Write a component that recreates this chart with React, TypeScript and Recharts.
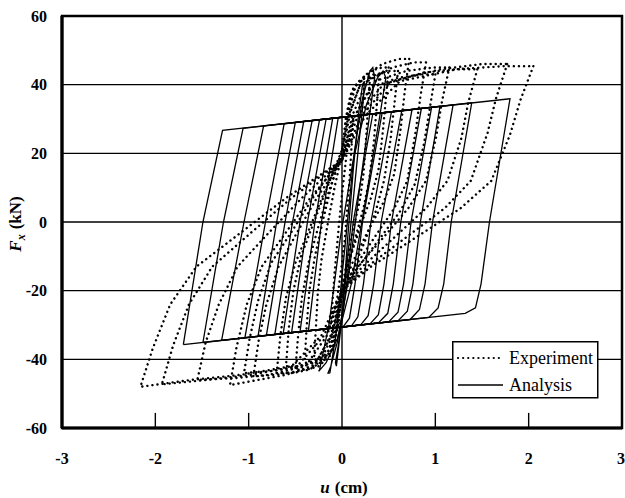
import { LineChart, Line, XAxis, YAxis, ReferenceLine, ReferenceArea } from "recharts";

type P = [number, number];

const xTicks = [-3, -2, -1, 0, 1, 2, 3];
const yTicks = [-60, -40, -20, 0, 20, 40, 60];
const gridY = [-40, -20, 0, 20, 40];
const innerTicks = [-2, -1, 1, 2];

// analysis: nested loops (lower-left -> upper-left -> upper-right -> down -> back)
const analysis1: P[] = [[-1.7, -35.7], [-1.49, 0], [-1.28, 26.7], [1.8, 35.9], [1.58, 0], [1.49, -18], [1.43, -25], [1.32, -26.6], [-1.7, -35.7]];
const analysis2: P[] = [[-1.49, -35.1], [-1.27, 0], [-1.06, 27.3], [1.39, 34.7], [1.17, 0], [1.09, -18], [1.03, -25], [0.93, -27.8], [-1.49, -35.1]];
const analysis3: P[] = [[-1.29, -34.5], [-1.05, 0], [-0.84, 28.0], [1.19, 34.1], [0.97, 0], [0.89, -18], [0.83, -25.5], [0.73, -28.4], [-1.29, -34.5]];
const analysis4: P[] = [[-1.04, -33.7], [-0.82, 0], [-0.62, 28.6], [1.05, 33.7], [0.84, 0], [0.76, -18], [0.7, -26], [0.6, -28.8], [-1.04, -33.7]];
const analysis5: P[] = [[-0.9, -33.3], [-0.7, 0], [-0.5, 29.0], [0.96, 33.4], [0.74, 0], [0.66, -18], [0.6, -26.3], [0.5, -29.1], [-0.9, -33.3]];
const analysis6: P[] = [[-0.81, -33.0], [-0.61, 0], [-0.41, 29.3], [0.85, 33.0], [0.63, 0], [0.55, -18], [0.49, -26.6], [0.39, -29.4], [-0.81, -33.0]];
const analysis7: P[] = [[-0.72, -32.8], [-0.53, 0], [-0.32, 29.5], [0.75, 32.7], [0.53, 0], [0.45, -18], [0.39, -27], [0.3, -29.7], [-0.72, -32.8]];
const analysis8: P[] = [[-0.63, -32.5], [-0.45, 0], [-0.24, 29.8], [0.64, 32.4], [0.42, 0], [0.34, -18], [0.28, -27.3], [0.2, -30.0], [-0.63, -32.5]];
const analysis9: P[] = [[-0.54, -32.2], [-0.37, 0], [-0.17, 30.0], [0.53, 32.1], [0.31, 0], [0.23, -18], [0.17, -27.6], [0.1, -30.3], [-0.54, -32.2]];
const analysis10: P[] = [[-0.45, -32.0], [-0.29, 0], [-0.1, 30.2], [0.43, 31.8], [0.22, 0], [0.14, -18], [0.08, -28], [0.01, -30.6], [-0.45, -32.0]];
const analysis11: P[] = [[-0.36, -31.7], [-0.22, 0], [-0.04, 30.4], [0.33, 31.5], [0.12, 0], [0.05, -18], [0.0, -28.5], [-0.06, -30.8], [-0.36, -31.7]];
// early cycles near the origin
const analysisC1: P[] = [[-0.13, -44], [-0.06, -32], [0.04, -5], [0.13, 20], [0.22, 36], [0.3, 44], [0.33, 45], [0.35, 42], [0.3, 32], [0.18, 8], [0.06, -18], [-0.05, -35], [-0.12, -42], [-0.15, -44], [-0.13, -44]];
const analysisC2: P[] = [[-0.24, -43], [-0.14, -30], [-0.02, -5], [0.12, 18], [0.26, 34], [0.38, 42], [0.44, 44], [0.47, 42], [0.4, 30], [0.25, 6], [0.1, -18], [-0.05, -34], [-0.17, -41], [-0.25, -43.5], [-0.24, -43]];
const analysisC3: P[] = [[-0.06, -42], [0.0, -28], [0.06, -5], [0.12, 15], [0.18, 32], [0.22, 40], [0.24, 41], [0.23, 36], [0.17, 20], [0.09, -2], [0.02, -22], [-0.04, -36], [-0.07, -41], [-0.06, -42]];

// experiment: pinched loops
const experiment1: P[] = [[2.05, 45.4], [1.91, 35.4], [1.8, 25.4], [1.6, 12], [1.27, 4], [0.82, -4], [0.31, -13], [0, -20], [-0.22, -33], [-0.54, -42], [-1.08, -44.5], [-1.62, -46], [-2.16, -48], [-2.03, -37], [-1.84, -24], [-1.56, -13], [-1.08, -3], [-0.6, 7], [0, 18], [0.25, 31], [0.62, 41], [1.23, 44.5], [1.74, 45.4], [2.05, 45.4]];
const experiment2: P[] = [[1.77, 46], [1.65, 36], [1.56, 26], [1.38, 12], [1.1, 4], [0.71, -4], [0.27, -13], [0, -20], [-0.19, -33], [-0.48, -42], [-0.97, -44.5], [-1.45, -46], [-1.93, -47.3], [-1.81, -36], [-1.64, -24], [-1.39, -13], [-0.97, -3], [-0.54, 7], [0, 18], [0.21, 31], [0.53, 41], [1.06, 44.5], [1.5, 46], [1.77, 46]];
const experiment3: P[] = [[1.45, 44.5], [1.35, 34.5], [1.28, 24.5], [1.13, 12], [0.9, 4], [0.58, -4], [0.22, -13], [0, -20], [-0.16, -33], [-0.39, -42], [-0.78, -44.5], [-1.16, -45.5], [-1.55, -46], [-1.46, -35], [-1.32, -24], [-1.12, -13], [-0.78, -3], [-0.43, 7], [0, 18], [0.17, 31], [0.44, 40], [0.87, 43.5], [1.23, 44.5], [1.45, 44.5]];
const experiment4: P[] = [[1.15, 45], [1.07, 35], [1.01, 25], [0.9, 12], [0.71, 4], [0.46, -4], [0.17, -13], [0, -20], [-0.12, -33], [-0.3, -42], [-0.6, -44.5], [-0.9, -46], [-1.2, -47.5], [-1.13, -36.5], [-1.02, -24], [-0.86, -13], [-0.6, -3], [-0.34, 7], [0, 18], [0.14, 31], [0.35, 41], [0.69, 44], [0.98, 45], [1.15, 45]];
const experiment5: P[] = [[0.9, 46.5], [0.84, 36.5], [0.79, 26.5], [0.7, 12], [0.56, 4], [0.36, -4], [0.14, -13], [0, -20], [-0.1, -33], [-0.24, -41], [-0.48, -43.5], [-0.71, -44.5], [-0.95, -45], [-0.89, -34], [-0.81, -24], [-0.68, -13], [-0.48, -3], [-0.27, 7], [0, 18], [0.11, 31], [0.27, 41], [0.54, 45], [0.77, 46.5], [0.9, 46.5]];
const experiment6: P[] = [[0.72, 47.5], [0.67, 37.5], [0.63, 27.5], [0.56, 14], [0.45, 6], [0.29, -2], [0.11, -12], [0, -20], [-0.07, -32], [-0.18, -40], [-0.35, -43], [-0.53, -44], [-0.7, -44], [-0.66, -33], [-0.6, -22], [-0.5, -12], [-0.35, -2], [-0.2, 8], [0, 20], [0.09, 32], [0.22, 42], [0.43, 46], [0.61, 47.5], [0.72, 47.5]];
const experiment7: P[] = [[0.5, 45], [0.47, 36], [0.44, 27], [0.39, 15], [0.31, 7], [0.2, -1], [0.08, -11], [0, -19], [-0.05, -30], [-0.13, -39], [-0.25, -42], [-0.38, -43], [-0.5, -43], [-0.47, -33], [-0.43, -22], [-0.36, -12], [-0.25, -1], [-0.14, 9], [0, 20], [0.06, 31], [0.15, 40], [0.3, 44], [0.43, 45], [0.5, 45]];
const experiment8: P[] = [[0.3, 42], [0.28, 34], [0.26, 25], [0.23, 14], [0.19, 6], [0.12, -2], [0.05, -12], [0, -19], [-0.03, -28], [-0.08, -36], [-0.15, -39], [-0.23, -40], [-0.3, -40], [-0.28, -31], [-0.26, -21], [-0.22, -11], [-0.15, 0], [-0.08, 10], [0, 20], [0.04, 30], [0.09, 37], [0.18, 41], [0.26, 42], [0.3, 42]];
const experiment9: P[] = [[0.12, 30], [0.08, 12], [0.03, -5], [0, -12], [-0.05, -22], [-0.12, -30], [-0.08, -15], [-0.03, 0], [0, 8], [0.05, 20], [0.12, 30]];
const experiment10: P[] = [[0.6, 44], [0.56, 34], [0.52, 24], [0.45, 12], [0.36, 3], [0.24, -6], [0.1, -15], [0, -22], [-0.06, -31], [-0.15, -38], [-0.3, -41], [-0.45, -42], [-0.6, -42], [-0.57, -31], [-0.52, -20], [-0.44, -10], [-0.3, 0], [-0.16, 10], [0, 21], [0.07, 31], [0.18, 39], [0.36, 43], [0.51, 44], [0.6, 44]];
const experiment11: P[] = [[1.0, 43], [0.94, 33], [0.88, 23], [0.78, 11], [0.62, 3], [0.4, -5], [0.15, -14], [0, -21], [-0.11, -33], [-0.26, -40], [-0.52, -42.5], [-0.79, -43.5], [-1.05, -44], [-0.99, -34], [-0.9, -23], [-0.76, -12], [-0.52, -2], [-0.29, 8], [0, 19], [0.12, 30], [0.3, 39], [0.6, 42], [0.85, 43], [1.0, 43]];
const experiment12: P[] = [[0.4, 43], [0.37, 33], [0.34, 23], [0.29, 12], [0.23, 4], [0.15, -4], [0.06, -13], [0, -20], [-0.04, -29], [-0.1, -37], [-0.2, -40], [-0.3, -41], [-0.4, -41], [-0.38, -31], [-0.35, -20], [-0.29, -10], [-0.2, 1], [-0.11, 11], [0, 21], [0.05, 31], [0.12, 39], [0.24, 42], [0.34, 43], [0.4, 43]];

const analysisLoops = [analysis1, analysis2, analysis3, analysis4, analysis5, analysis6, analysis7, analysis8, analysis9, analysis10, analysis11, analysisC1, analysisC2, analysisC3];
const experimentLoops = [experiment1, experiment2, experiment3, experiment4, experiment5, experiment6, experiment7, experiment8, experiment9, experiment10, experiment11, experiment12];

const toRows = (pts: P[]) => pts.map(([x, y]) => ({ x, y }));

const serif = "'Liberation Serif', 'Times New Roman', serif";
const tickStyle = { fontFamily: serif, fontWeight: "bold", fontSize: 16, fill: "#000" };
const DOTS = "0.1 5";

export default function App() {
  return (
    <div style={{ position: "absolute", left: 0, top: 0, width: 625, height: 498, background: "#fff" }}>
      <LineChart width={625} height={498} margin={{ top: 16, right: 3, bottom: 40, left: 12 }}>
        <XAxis
          type="number"
          dataKey="x"
          domain={[-3, 3]}
          ticks={xTicks}
          allowDataOverflow
          axisLine={false}
          tickLine={false}
          tickSize={0}
          tickMargin={25}
          height={30}
          tick={tickStyle}
        />
        <YAxis
          type="number"
          dataKey="y"
          domain={[-60, 60]}
          ticks={yTicks}
          allowDataOverflow
          axisLine={false}
          tickLine={false}
          tickSize={0}
          tickMargin={15}
          width={50}
          tick={tickStyle}
        />
        {gridY.map((v) => (
          <ReferenceLine key={`gy${v}`} y={v} stroke="#000" strokeWidth={1.4} />
        ))}
        <ReferenceLine x={0} stroke="#000" strokeWidth={1.4} />
        {innerTicks.map((v) => (
          <ReferenceLine
            key={`it${v}`}
            segment={[{ x: v, y: -60 }, { x: v, y: -55.6 }]}
            stroke="#000"
            strokeWidth={1.4}
          />
        ))}
        {experimentLoops.map((loop, i) => (
          <Line
            key={`e${i}`}
            data={toRows(loop)}
            dataKey="y"
            type="linear"
            stroke="#000"
            strokeWidth={2.4}
            strokeLinecap="round"
            strokeDasharray={DOTS}
            dot={false}
            activeDot={false}
            isAnimationActive={false}
          />
        ))}
        {analysisLoops.map((loop, i) => (
          <Line
            key={`a${i}`}
            data={toRows(loop)}
            dataKey="y"
            type="linear"
            stroke="#000"
            strokeWidth={1.3}
            dot={false}
            activeDot={false}
            isAnimationActive={false}
          />
        ))}
        <ReferenceArea x1={-3} x2={3} y1={-60} y2={60} fill="none" stroke="#000" strokeWidth={2.5} />
        <ReferenceLine x={-3} stroke="#000" strokeWidth={3.2} />
        <ReferenceLine y={-60} stroke="#000" strokeWidth={3.2} />
      </LineChart>

      <svg width={625} height={498} style={{ position: "absolute", left: 0, top: 0, pointerEvents: "none" }}>
        <text x={344} y={493} textAnchor="middle" fontFamily={serif} fontSize={17} fontWeight="bold">
          <tspan fontStyle="italic">u</tspan>
          <tspan dx={5}>(cm)</tspan>
        </text>
        <text
          transform="translate(21 224) rotate(-90)"
          textAnchor="middle"
          fontFamily={serif}
          fontSize={17}
          fontWeight="bold"
        >
          <tspan fontStyle="italic">F</tspan>
          <tspan fontSize={12} fontStyle="italic" dy={4}>x</tspan>
          <tspan dy={-4} dx={5}>(kN)</tspan>
        </text>

        <g transform="translate(452 341)">
          <rect x={0.75} y={0.75} width={145} height={56} fill="#fff" stroke="#000" strokeWidth={1.5} />
          <line x1={6} y1={17} x2={51} y2={17} stroke="#000" strokeWidth={2.2} strokeLinecap="round" strokeDasharray="0.1 5" />
          <line x1={6} y1={44} x2={51} y2={44} stroke="#000" strokeWidth={1.3} />
          <text x={57} y={23} fontFamily={serif} fontSize={18}>Experiment</text>
          <text x={57} y={50} fontFamily={serif} fontSize={18}>Analysis</text>
        </g>
      </svg>
    </div>
  );
}
